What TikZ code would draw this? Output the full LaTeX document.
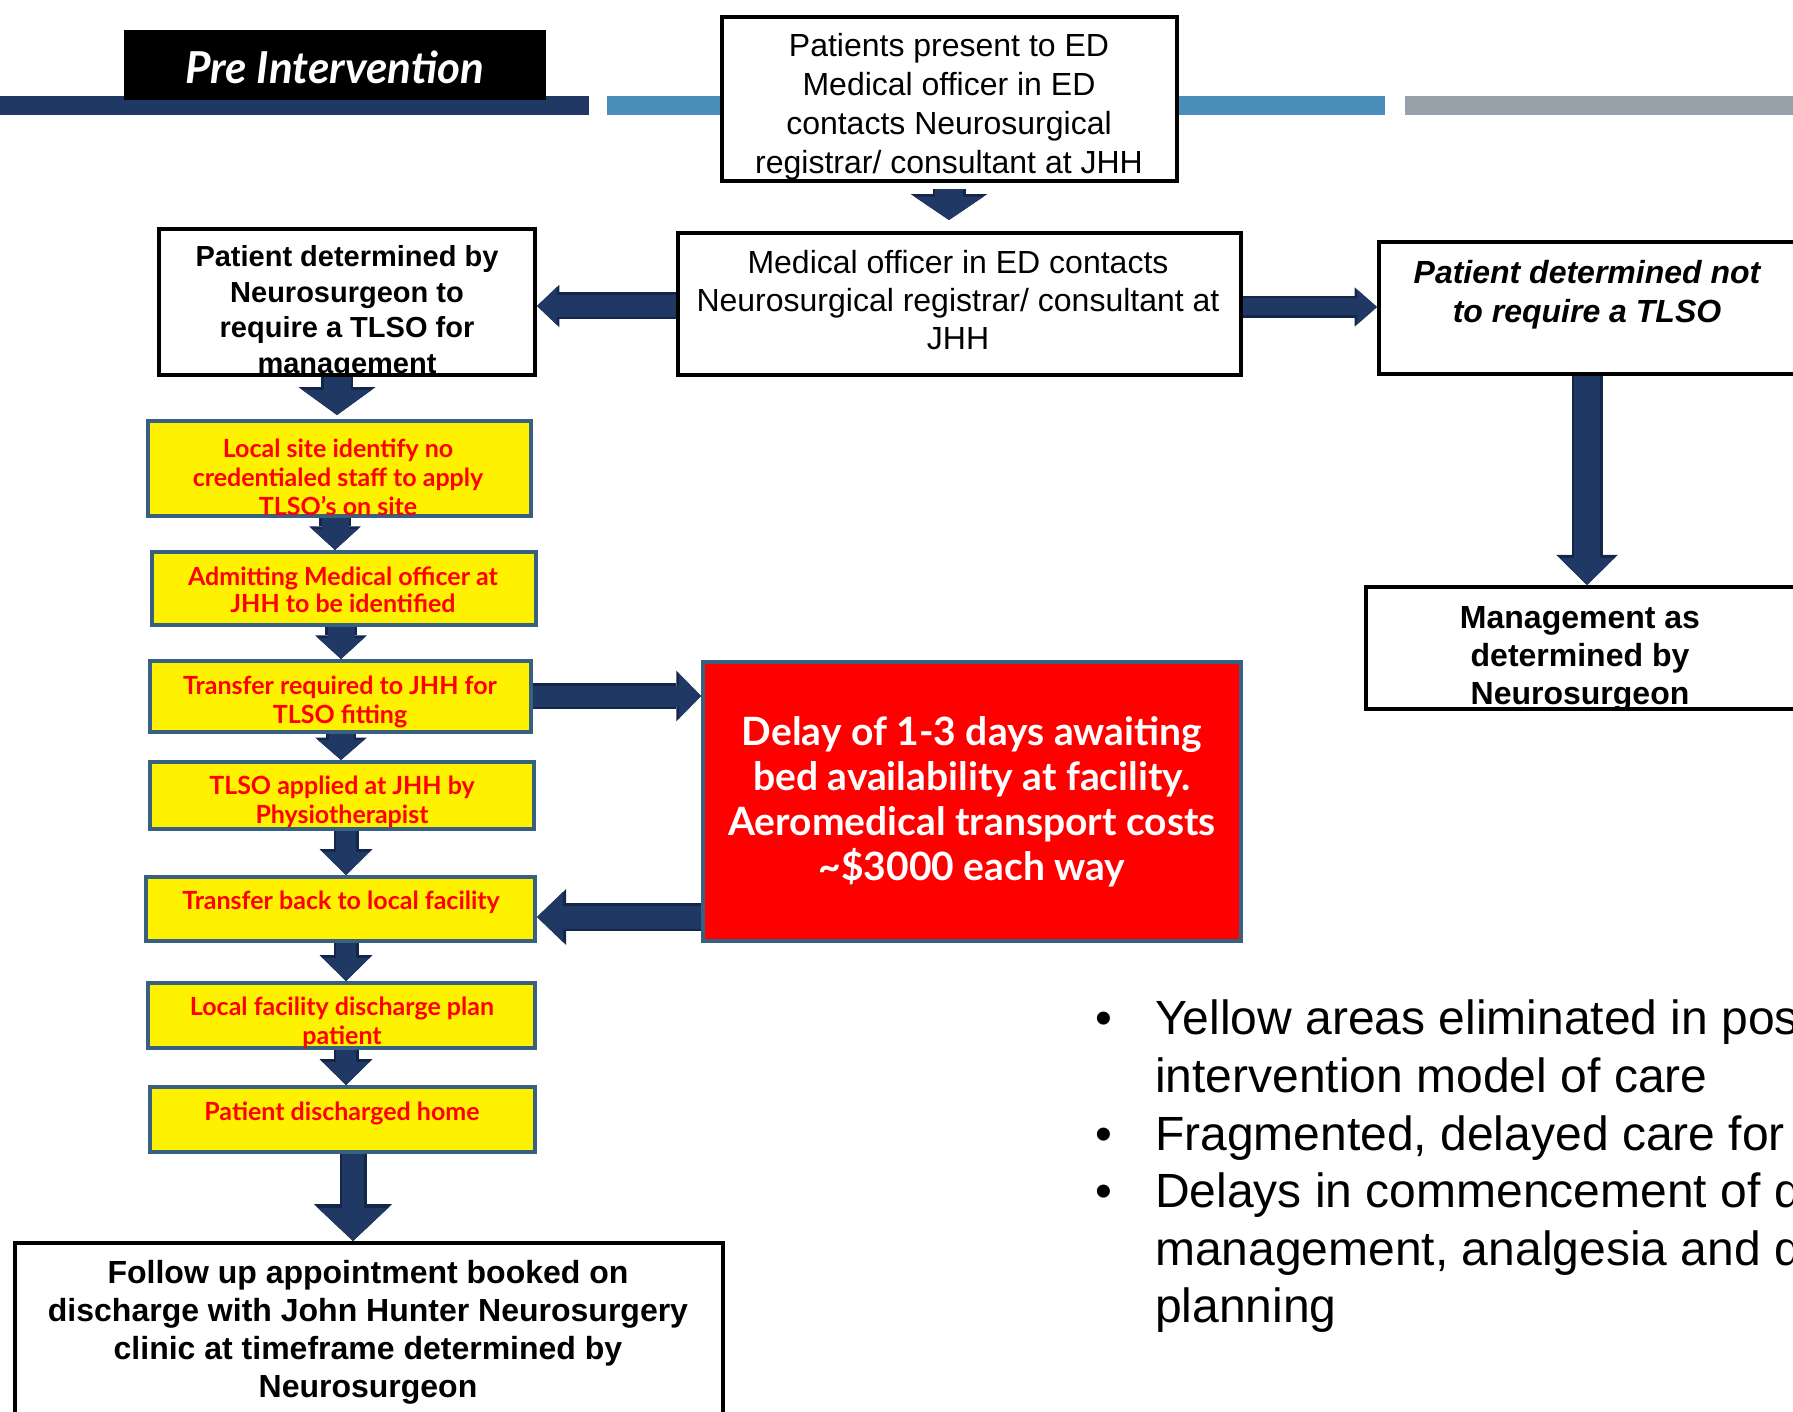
\documentclass[tikz,border=0pt]{standalone}
\usepackage{fontspec}
\setmainfont{Liberation Sans}
\newfontfamily\gillfont{Lato}
\usepackage{tikz}
\usetikzlibrary{arrows.meta, positioning}
\definecolor{navy}{HTML}{1F3864}
\definecolor{navyedge}{HTML}{14264A}
\definecolor{skyband}{HTML}{4A8FBB}
\definecolor{greyband}{HTML}{98A0A9}
\definecolor{steel}{HTML}{386080}
\tikzstyle{titlebox} = [rectangle, fill=black, minimum width=422pt, minimum height=70pt, text height=38pt, text=white, font=\gillfont\bfseries\itshape\fontsize{44}{48}\selectfont]
\tikzstyle{blackbox} = [rectangle, draw=black, line width=4pt, fill=white, inner sep=0pt]
\tikzstyle{yellowbox} = [rectangle, draw=steel, line width=4pt, fill=yellow, inner sep=0pt]
\tikzstyle{redbox} = [rectangle, draw=steel, line width=4pt, fill=red, inner sep=0pt]
\tikzstyle{boxtext} = [align=center, inner sep=0pt, font=\fontsize{32}{39}\selectfont]
\tikzstyle{yellowtext} = [align=center, inner sep=0pt, text=red, font=\gillfont\bfseries\fontsize{25}{29}\selectfont]
\tikzstyle{redtext} = [align=center, inner sep=0pt, text=white, font=\gillfont\bfseries\fontsize{39}{45}\selectfont]
\tikzstyle{notetext} = [align=left, inner sep=0pt, font=\fontsize{48}{57.6}\selectfont]
\tikzset{arrow/.style n args={3}{line width=#1, draw=navy, -{Triangle[width=#2, length=#3, line width=0pt]},
    preaction={draw=navyedge, line width=#1+5pt, -{Triangle[width=#2, length=#3, line width=0pt, scale=1.12]}}}}

\begin{document}
\begin{tikzpicture}[x=1pt, y=-1pt]
        \path [use as bounding box, fill=white] (0,0) rectangle (1793,1412);
        % header bar
        \fill [navy] (0,96) rectangle (589,115);
        \fill [skyband] (607,96) rectangle (1385,115);
        \fill [greyband] (1405,96) rectangle (1793,115);
        \node (pre) [titlebox] at (335,65) {Pre Intervention};
        % top of the pathway
        \node (ed) [blackbox, minimum width=455pt, minimum height=164pt] at (949.5,99) {};
        \node (edT) [boxtext] at (949,106.5) {Patients present to ED\\Medical officer in ED\\contacts Neurosurgical\\registrar/ consultant at JHH};
        \node (call) [blackbox, minimum width=563pt, minimum height=142pt] at (959.5,304) {};
        \node (callT) [boxtext, font=\fontsize{32}{38}\selectfont] at (958,300) {Medical officer in ED contacts\\Neurosurgical registrar/ consultant at\\JHH};
        \node (tlso) [blackbox, minimum width=376pt, minimum height=146pt] at (347,302) {};
        \node (tlsoT) [boxtext, font=\bfseries\fontsize{29}{35.5}\selectfont] at (347,312.5) {Patient determined by\\Neurosurgeon to\\require a TLSO for\\management};
        \node (notlso) [blackbox, minimum width=416pt, minimum height=132pt] at (1587,308) {};
        \node (notlsoT) [boxtext, font=\bfseries\itshape\fontsize{32}{39}\selectfont] at (1587,294.5) {Patient determined not\\to require a TLSO};
        \node (mgmt) [blackbox, minimum width=429pt, minimum height=122pt] at (1580.5,648) {};
        \node (mgmtT) [boxtext, font=\bfseries\fontsize{32}{38}\selectfont] at (1580,659) {Management as\\determined by\\Neurosurgeon};
        % yellow steps
        \node (local) [yellowbox, minimum width=383pt, minimum height=95pt] at (339.5,468.5) {};
        \node (localT) [yellowtext] at (338,477) {Local site identify no\\credentialed staff to apply\\TLSO’s on site};
        \node (admit) [yellowbox, minimum width=384pt, minimum height=73pt] at (344,588.5) {};
        \node (admitT) [yellowtext, font=\gillfont\bfseries\fontsize{25}{27.5}\selectfont] at (343,590) {Admitting Medical officer at\\JHH to be identified};
        \node (xfer) [yellowbox, minimum width=381pt, minimum height=71pt] at (340.5,696.5) {};
        \node (xferT) [yellowtext] at (340,702) {Transfer required to JHH for\\TLSO fitting};
        \node (fit) [yellowbox, minimum width=384pt, minimum height=67pt] at (342,795.5) {};
        \node (fitT) [yellowtext] at (342,802) {TLSO applied at JHH by\\Physiotherapist};
        \node (back) [yellowbox, minimum width=389pt, minimum height=64pt] at (340.5,909) {};
        \node (backT) [yellowtext] at (341,902) {Transfer back to local facility};
        \node (plan) [yellowbox, minimum width=387pt, minimum height=65pt] at (341.5,1015.5) {};
        \node (planT) [yellowtext] at (342,1023) {Local facility discharge plan\\patient};
        \node (home) [yellowbox, minimum width=385pt, minimum height=65pt] at (342.5,1119.5) {};
        \node (homeT) [yellowtext] at (342,1113) {Patient discharged home};
        \node (delay) [redbox, minimum width=538pt, minimum height=279pt] at (972,801.5) {};
        \node (delayT) [redtext] at (972,802) {Delay of 1-3 days awaiting\\bed availability at facility.\\Aeromedical transport costs\\\textasciitilde\$3000 each way};
        \node (follow) [blackbox, minimum width=708pt, minimum height=172pt] at (369,1329) {};
        \node (followT) [boxtext, font=\bfseries\fontsize{32}{38}\selectfont] at (368,1332) {Follow up appointment booked on\\discharge with John Hunter Neurosurgery\\clinic at timeframe determined by\\Neurosurgeon};
        % notes on the right
        \node (notes) [notetext, anchor=north west] at (1095,1000) {\makebox[60pt][l]{\textbullet}Yellow areas eliminated in pos\\
            \hspace*{60pt}intervention model of care\\
            \makebox[60pt][l]{\textbullet}Fragmented, delayed care for\\
            \makebox[60pt][l]{\textbullet}Delays in commencement of d\\
            \hspace*{60pt}management, analgesia and d\\
            \hspace*{60pt}planning};
        % block arrows
        \draw [arrow={28pt}{68pt}{23pt}, shorten <=6pt, shorten >=11pt] (ed.south -| 949,0) -- (call.north -| 949,0);
        \draw [arrow={22pt}{38pt}{20pt}] (call.west |- 0,306) -- (tlso.east |- 0,306);
        \draw [arrow={17pt}{35pt}{20pt}] (call.east |- 0,307) -- (notlso.west |- 0,307);
        \draw [arrow={26pt}{55pt}{27pt}] (notlso.south) -- (mgmt.north -| notlso.south);
        \draw [arrow={27pt}{69pt}{25pt}, shorten >=4pt] (tlso.south -| 337,0) -- (local.north -| 337,0);
        \draw [arrow={27pt}{46pt}{21pt}] (local.south -| 335,0) -- (admit.north -| 335,0);
        \draw [arrow={27pt}{46pt}{21pt}] (admit.south -| 341,0) -- (xfer.north -| 341,0);
        \draw [arrow={25pt}{46pt}{20pt}] (xfer.south -| 341,0) -- (fit.north -| 341,0);
        \draw [arrow={20pt}{47pt}{23pt}] (fit.south -| 346,0) -- (back.north -| 346,0);
        \draw [arrow={20pt}{47pt}{23pt}] (back.south -| 346,0) -- (plan.north -| 346,0);
        \draw [arrow={20pt}{47pt}{23pt}] (plan.south -| 346,0) -- (home.north -| 346,0);
        \draw [arrow={22pt}{70pt}{33pt}] (home.south -| 353,0) -- (follow.north -| 353,0);
        \draw [arrow={21pt}{45pt}{22pt}] (xfer.east |- 0,696) -- (delay.west |- 0,696);
        \draw [arrow={23pt}{50pt}{26pt}] (delay.west |- 0,917) -- (back.east |- 0,917);
\end{tikzpicture}
\end{document}
